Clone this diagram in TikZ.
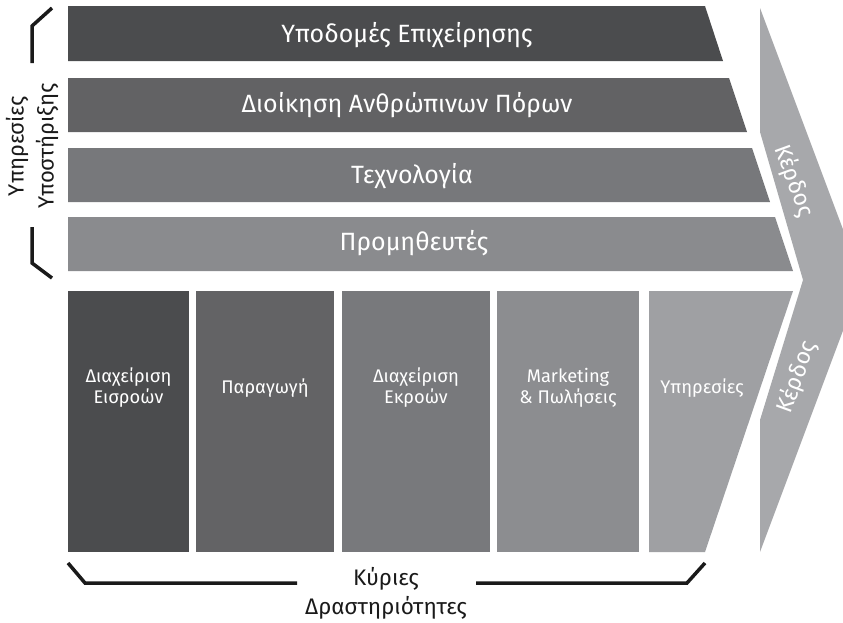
\documentclass[tikz,border=0pt]{standalone}
\usepackage{fontspec}
\setmainfont{Fira Sans}
\definecolor{barA}{HTML}{4B4C4E}
\definecolor{barB}{HTML}{626264}
\definecolor{barC}{HTML}{77787B}
\definecolor{barD}{HTML}{8A8B8E}
\definecolor{colA}{HTML}{4B4C4E}
\definecolor{colB}{HTML}{636365}
\definecolor{colC}{HTML}{78797C}
\definecolor{colD}{HTML}{8C8D90}
\definecolor{colE}{HTML}{9FA0A3}
\definecolor{chev}{HTML}{A7A8AB}
\definecolor{ink}{HTML}{1A1A1A}
\tikzset{
  bartext/.style={text=white, font=\fontsize{25}{29}\selectfont, inner sep=0pt},
  coltext/.style={text=white, font=\fontsize{18.3}{21}\selectfont, align=center, inner sep=0pt},
  gaintext/.style={text=white, font=\fontsize{23}{26}\selectfont, inner sep=0pt},
  labeltext/.style={text=ink, font=\fontsize{22.5}{29}\selectfont, align=center, inner sep=0pt},
  sidetext/.style={text=ink, font=\fontsize{22}{30}\selectfont, align=center, inner sep=0pt},
  bracket/.style={draw=ink, line width=3.5pt, line join=miter},
}
\begin{document}
\begin{tikzpicture}[x=1pt,y=-1pt]
\useasboundingbox (0,0) rectangle (843,622);

% support activity bars (right edges slanted)
\fill[barA] (68,6) -- (705,6) -- (723,61) -- (68,61) -- cycle;
\fill[barB] (68,78) -- (729,78) -- (747,132) -- (68,132) -- cycle;
\fill[barC] (68,148) -- (752,148) -- (770,202) -- (68,202) -- cycle;
\fill[barD] (68,217) -- (775,217) -- (793,271) -- (68,271) -- cycle;

\node[bartext] (infra) at (407,35) {Υποδομές Επιχείρησης};
\node[bartext] (hrm)   at (407,105) {Διοίκηση Ανθρώπινων Πόρων};
\node[bartext] (tech)  at (412,176) {Τεχνολογία};
\node[bartext] (proc)  at (414,243) {Προμηθευτές};

% primary activity columns
\fill[colA] (68,291) rectangle (189,552);
\fill[colB] (196,291) rectangle (334,552);
\fill[colC] (342,291) rectangle (490,552);
\fill[colD] (497,291) rectangle (639,552);
\fill[colE] (649,291) -- (793,291) -- (705,552) -- (649,552) -- cycle;

\node[coltext] (inlog)  at (128.5,388) {Διαχείριση\\Εισροών};
\node[coltext] (ops)    at (265,388) {Παραγωγή};
\node[coltext] (outlog) at (416,388) {Διαχείριση\\Εκροών};
\node[coltext] (mkt)    at (568,388) {Marketing\\\& Πωλήσεις};
\node[coltext] (serv)   at (702,388) {Υπηρεσίες};

% margin chevron
\begin{scope}
\clip (0,0) rectangle (843,622);
\fill[chev] (760,8) -- (862,280) -- (760,552) -- (760,420) -- (803,280)
  -- (760,132) -- cycle;
\end{scope}
\node[gaintext, rotate=-70] (gainup) at (794,181) {Κέρδος};
\node[gaintext, rotate=70]  (gaindn) at (797,377) {Κέρδος};

% support activities bracket and label
\draw[bracket] (52,8) -- (32,26) -- (32,63);
\draw[bracket] (32,227) -- (32,263) -- (52,278);
\node[sidetext, rotate=90] (support) at (32,146) {Υπηρεσίες\\Υποστήριξης};

% primary activities bracket and label
\draw[bracket] (68,563) -- (85,583) -- (297,583);
\draw[bracket] (476,583) -- (687,583) -- (705,563);
\node[labeltext] (primary) at (386,593) {Κύριες\\Δραστηριότητες};
\end{tikzpicture}
\end{document}
